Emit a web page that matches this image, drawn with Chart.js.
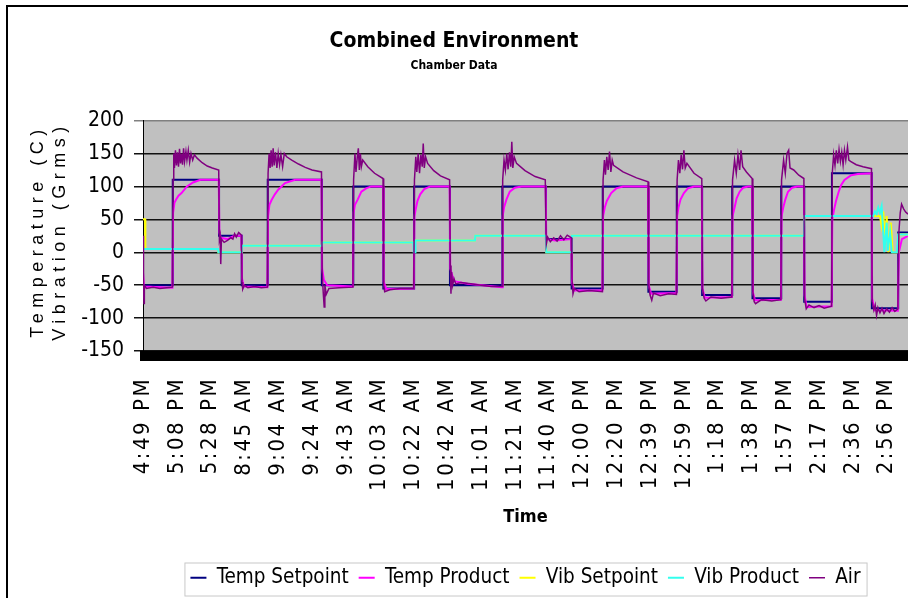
<!DOCTYPE html>
<html>
<head>
<meta charset="utf-8">
<script src="https://cdn.jsdelivr.net/npm/chart.js@4.4.1/dist/chart.umd.min.js"></script>
<style>
  html, body { margin: 0; padding: 0; background: #fff; overflow: hidden; }
  #wrap { position: relative; width: 908px; height: 598px; }
</style>
</head>
<body>
<div id="wrap"><canvas id="chart"></canvas></div>
<script>
const NARROW = "'Liberation Sans Narrow', 'Arial Narrow', 'DejaVu Sans Condensed', 'Liberation Sans', sans-serif";
const REGULAR = "'Liberation Sans', Arial, sans-serif";

// time axis labels, one per label step (x = label index)
const timeLabels = ['4:49 PM', '5:08 PM', '5:28 PM', '8:45 AM', '9:04 AM', '9:24 AM', '9:43 AM',
  '10:03 AM', '10:22 AM', '10:42 AM', '11:01 AM', '11:21 AM', '11:40 AM', '12:00 PM', '12:20 PM',
  '12:39 PM', '12:59 PM', '1:18 PM', '1:38 PM', '1:57 PM', '2:17 PM', '2:36 PM', '2:56 PM'];
const yTitle = ['Temperature (C)', 'Vibration (Grms)'];

// Temp Setpoint, stepped: level starts at each x
const tempSetX = [0, 0.88, 2.25, 2.92, 3.69, 5.29, 6.22, 7.11, 8.02, 9.08, 10.63, 11.92, 12.68,
  13.60, 14.95, 15.79, 16.54, 17.43, 18.03, 18.88, 19.56, 20.38, 21.56, 22.34, 22.63];
const tempSetY = [-50, 110, 25, -50, 110, -50, 100, -55, 100, -50, 100, 20, -55,
  100, -60, 100, -65, 100, -70, 100, -75, 120, -85, 30, 30];

// Temp Product
const tempProdX = [
  0, 0.03, 0.87,
  0.89, 0.93, 0.98, 1.05, 1.14, 1.30, 1.48, 1.70, 2.24,
  2.26, 2.30, 2.50, 2.70, 2.91,
  2.93, 2.98, 3.68,
  3.70, 3.74, 3.80, 3.90, 4.00, 4.20, 4.50, 5.28,
  5.30, 5.35, 5.45, 6.21,
  6.23, 6.27, 6.35, 6.46, 6.60, 6.75, 7.10,
  7.12, 7.20, 8.01,
  8.03, 8.07, 8.12, 8.20, 8.32, 8.50, 9.07,
  9.09, 9.20, 9.60, 10.62,
  10.64, 10.68, 10.75, 10.85, 11.00, 11.20, 11.91,
  11.93, 12.20, 12.67,
  12.69, 12.75, 13.59,
  13.61, 13.66, 13.72, 13.85, 14.00, 14.20, 14.94,
  14.96, 15.03, 15.78,
  15.80, 15.84, 15.90, 16.00, 16.12, 16.30, 16.53,
  16.55, 16.62, 17.42,
  17.44, 17.50, 17.56, 17.65, 17.75, 17.90, 18.02,
  18.04, 18.10, 18.87,
  18.89, 18.94, 19.00, 19.08, 19.20, 19.35, 19.55,
  19.57, 19.63, 20.37,
  20.39, 20.44, 20.50, 20.58, 20.65, 20.75, 20.95, 21.15, 21.55,
  21.57, 21.64, 22.33,
  22.36, 22.45, 22.63
];
const tempProdY = [
  -30, -52, -54,
  60, 75, 80, 86, 90, 100, 106, 110, 110,
  30, 22, 20, 25, 25,
  -40, -52, -53,
  55, 72, 79, 88, 95, 105, 110, 110,
  -25, -42, -50, -52,
  60, 72, 80, 92, 97, 100, 100,
  -45, -56, -55,
  55, 66, 78, 88, 96, 100, 100,
  -25, -44, -48, -53,
  55, 68, 80, 92, 98, 100, 100,
  20, 18, 20,
  -45, -58, -58,
  55, 68, 78, 90, 97, 100, 100,
  -50, -63, -62,
  55, 68, 80, 90, 97, 100, 100,
  -55, -69, -68,
  55, 68, 82, 92, 98, 100, 100,
  -60, -73, -72,
  55, 68, 80, 92, 98, 100, 100,
  -65, -83, -82,
  50, 64, 78, 92, 102, 110, 117, 119, 120,
  -70, -88, -89,
  0, 20, 25
];

// Vib Setpoint
const vibSetX = [0, 0.06, 0.07, 2.22, 2.23, 2.92, 2.93, 5.29, 5.30, 8.01, 8.06, 9.82, 9.83, 11.92, 11.93,
  12.68, 12.69, 19.55, 19.56, 21.80, 21.85, 21.90, 21.95, 22.00, 22.05, 22.12, 22.18, 22.34, 22.35, 22.63];
const vibSetY = [50, 50, 5, 5, 0, 0, 10, 10, 15, 15, 18, 18, 25, 25, 0,
  0, 25, 25, 55, 55, 40, 62, 10, 55, 0, 45, 0, 0, 27, 27];

// Vib Product
const vibProdX = [0, 2.22, 2.23, 2.92, 2.93, 5.29, 5.30, 8.00, 8.01, 8.05, 8.06, 9.82, 9.83, 11.92, 11.93,
  12.68, 12.69, 19.55, 19.56, 21.60, 21.65, 21.70, 21.75, 21.80, 21.85, 21.90, 21.93,
  22.00, 22.03, 22.10, 22.15, 22.30, 22.34, 22.63];
const vibProdY = [5, 5, 0, 0, 10, 10, 15, 15, 0, 0, 18, 18, 25, 25, 0,
  0, 25, 25, 55, 55, 62, 58, 68, 60, 70, 30, 0,
  45, 2, 30, 0, 0, 27, 27];

// Air
const airX = [
  0, 0.01, 0.02, 0.03, 0.04, 0.10, 0.30, 0.50, 0.70, 0.87,
  0.89, 0.91, 0.93, 0.96, 0.99, 1.02, 1.05, 1.08, 1.11, 1.14, 1.17, 1.20, 1.23, 1.27, 1.30, 1.34, 1.38, 1.42, 1.47, 1.52, 1.60, 1.75, 1.90, 2.05, 2.24,
  2.26, 2.28, 2.30, 2.32, 2.40, 2.50, 2.60, 2.66, 2.71, 2.76, 2.83, 2.91,
  2.93, 2.95, 3.00, 3.10, 3.30, 3.50, 3.68,
  3.70, 3.73, 3.76, 3.79, 3.82, 3.85, 3.88, 3.92, 3.96, 4.00, 4.04, 4.08, 4.13, 4.18, 4.25, 4.40, 4.60, 4.80, 5.00, 5.28,
  5.30, 5.33, 5.36, 5.38, 5.42, 5.50, 5.80, 6.21,
  6.23, 6.27, 6.30, 6.34, 6.37, 6.40, 6.43, 6.46, 6.50, 6.65, 6.85, 7.10,
  7.12, 7.15, 7.30, 7.60, 8.01,
  8.03, 8.07, 8.10, 8.14, 8.18, 8.22, 8.26, 8.29, 8.32, 8.36, 8.42, 8.60, 8.80, 9.07,
  9.09, 9.11, 9.13, 9.16, 9.20, 9.25, 9.40, 9.70, 10.00, 10.30, 10.62,
  10.64, 10.68, 10.72, 10.76, 10.80, 10.84, 10.88, 10.91, 10.94, 10.98, 11.05, 11.30, 11.60, 11.90,
  11.93, 11.97, 12.05, 12.15, 12.25, 12.35, 12.45, 12.55, 12.67,
  12.69, 12.72, 12.76, 12.90, 13.20, 13.59,
  13.61, 13.65, 13.68, 13.72, 13.76, 13.80, 13.84, 13.88, 13.92, 14.20, 14.60, 14.94,
  14.96, 15.00, 15.05, 15.10, 15.30, 15.55, 15.78,
  15.80, 15.84, 15.88, 15.92, 15.96, 16.00, 16.04, 16.09, 16.30, 16.53,
  16.55, 16.60, 16.65, 16.80, 17.10, 17.42,
  17.44, 17.50, 17.55, 17.60, 17.65, 17.69, 17.74, 17.85, 18.02,
  18.04, 18.08, 18.12, 18.30, 18.60, 18.87,
  18.89, 18.95, 19.00, 19.05, 19.10, 19.14, 19.25, 19.40, 19.55,
  19.57, 19.62, 19.70, 19.85, 20.00, 20.15, 20.37,
  20.39, 20.43, 20.47, 20.51, 20.55, 20.59, 20.63, 20.67, 20.71, 20.75, 20.79, 20.84, 20.88, 20.93, 21.10, 21.30, 21.55,
  21.57, 21.62, 21.66, 21.70, 21.74, 21.80, 21.86, 21.92, 22.00, 22.08, 22.16, 22.24, 22.33,
  22.36, 22.40, 22.44, 22.50, 22.56, 22.63
];
const airY = [
  25, 10, -60, -78, -50, -55, -53, -55, -54, -53,
  110, 150, 128, 155, 132, 152, 130, 157, 135, 150, 133, 158, 138, 153, 140, 155, 137, 150, 140, 148, 143, 136, 131, 128, 125,
  20, 25, -18, 20, 15, 18, 22, 20, 28, 23, 30, 26,
  -45, -56, -50, -54, -52, -54, -53,
  120, 150, 128, 155, 130, 158, 132, 152, 128, 150, 133, 148, 130, 150, 145, 140, 134, 129, 125, 122,
  -30, -60, -83, -50, -64, -55, -54, -53,
  110, 150, 122, 145, 158, 125, 150, 130, 140, 130, 120, 112,
  -50, -60, -57, -55, -55,
  110, 145, 122, 150, 120, 148, 130, 165, 128, 145, 135, 124, 116, 110,
  -20, -63, -30, -50, -40, -48, -46, -48, -50, -52, -52,
  110, 140, 125, 150, 126, 152, 130, 168, 128, 145, 135, 124, 115, 110,
  12, 23, 16, 22, 17, 25, 19, 26, 22,
  -40, -63, -55, -60, -58, -60,
  110, 140, 118, 145, 125, 153, 122, 140, 132, 122, 113, 107,
  -50, -65, -73, -62, -66, -63, -64,
  110, 140, 120, 148, 126, 155, 128, 135, 120, 112,
  -55, -70, -74, -68, -70, -68,
  110, 140, 120, 148, 125, 155, 130, 122, 112,
  -60, -75, -78, -72, -74, -72,
  110, 140, 120, 150, 155, 128, 125, 117, 112,
  -70, -86, -80, -84, -81, -85, -82,
  120, 148, 132, 155, 135, 156, 138, 152, 133, 155, 140, 160, 140, 138, 133, 130, 127,
  -75, -88, -80, -96, -84, -92, -85, -93, -86, -91, -84, -90, -86,
  30, 60, 73, 66, 61, 58
];

const pts = (xs, ys) => xs.map((x, i) => ({ x: x, y: ys[i] }));

// grey plot area, black floor strip, outer frame, y title, legend box
const chartDecor = {
  id: 'chartDecor',
  beforeDraw(chart) {
    const { ctx, chartArea: a } = chart;
    ctx.save();
    ctx.fillStyle = '#c0c0c0';
    ctx.fillRect(a.left, a.top, a.right - a.left, a.bottom - a.top);
    ctx.restore();

    const sx = chart.scales.x;
    if (!sx._spaced) {
      const drawLabels = sx.drawLabels.bind(sx);
      sx.drawLabels = (area) => {
        sx.ctx.save();
        sx.ctx.letterSpacing = '2.5px';
        drawLabels(area);
        sx.ctx.restore();
      };
      sx._spaced = true;
    }
  },
  afterDraw(chart) {
    const { ctx, chartArea: a } = chart;
    ctx.save();
    ctx.fillStyle = '#000';
    ctx.fillRect(a.left - 3, a.bottom, a.right - a.left + 3, 10);
    ctx.fillRect(6, 5, 2, chart.height);
    ctx.fillRect(6, 5, chart.width, 2);

    const hb = chart.legend.legendHitBoxes;
    if (hb && hb.length) {
      const last = hb[hb.length - 1];
      const left = hb[0].left - 6;
      const right = last.left + last.width + 6;
      const top = hb[0].top - 5;
      ctx.strokeStyle = '#c8c8c8';
      ctx.lineWidth = 1;
      ctx.strokeRect(left + 0.5, top + 0.5, right - left, 33);
    }

    ctx.translate(38, 231);
    ctx.rotate(-Math.PI / 2);
    ctx.font = '18px ' + REGULAR;
    ctx.letterSpacing = '5.5px';
    ctx.textAlign = 'center';
    ctx.textBaseline = 'middle';
    ctx.fillStyle = '#000';
    ctx.fillText(yTitle[0], 0, 0);
    ctx.fillText(yTitle[1], 0, 22);
    ctx.restore();
  }
};

new Chart(document.getElementById('chart'), {
  type: 'line',
  data: {
    datasets: [
      { label: 'Temp Setpoint', data: pts(tempSetX, tempSetY), stepped: true,
        borderColor: '#000080', backgroundColor: '#000080', borderWidth: 2, order: 4 },
      { label: 'Temp Product', data: pts(tempProdX, tempProdY),
        borderColor: '#ff00ff', backgroundColor: '#ff00ff', borderWidth: 2, order: 3 },
      { label: 'Vib Setpoint', data: pts(vibSetX, vibSetY),
        borderColor: '#ffff00', backgroundColor: '#ffff00', borderWidth: 2, order: 2 },
      { label: 'Vib Product', data: pts(vibProdX, vibProdY),
        borderColor: '#33ffee', backgroundColor: '#33ffee', borderWidth: 2, order: 1 },
      { label: 'Air', data: pts(airX, airY),
        borderColor: '#800080', backgroundColor: '#800080', borderWidth: 1.5, order: 0 }
    ]
  },
  options: {
    responsive: true,
    maintainAspectRatio: false,
    animation: false,
    events: [],
    elements: { point: { radius: 0 }, line: { tension: 0 } },
    layout: { padding: 0 },
    scales: {
      x: {
        type: 'linear',
        min: 0,
        max: 22.63,
        afterBuildTicks: (s) => { s.ticks = timeLabels.map((t, i) => ({ value: i })); },
        afterFit: (s) => { s.height = 206.5; s.paddingLeft = 0; s.paddingRight = 0; },
        grid: { display: false, drawTicks: false, tickLength: 0 },
        border: { display: false },
        ticks: {
          autoSkip: false, minRotation: 90, maxRotation: 90, padding: 26,
          color: '#000', font: { family: NARROW, size: 22 },
          callback: (v) => timeLabels[v]
        },
        title: {
          display: true, text: 'Time', color: '#000',
          font: { family: NARROW, size: 18, weight: 'bold' },
          padding: { top: 0, bottom: 29 }
        }
      },
      y: {
        min: -150,
        max: 200,
        afterFit: (s) => { s.width = 143; },
        ticks: { stepSize: 50, padding: 10, color: '#000', font: { family: NARROW, size: 21 } },
        grid: {
          color: (c) => (c.tick && c.tick.value === 200 ? '#808080' : '#111'),
          lineWidth: 1.5,
          tickLength: 9
        },
        border: { display: true, color: '#000', width: 1 }
      }
    },
    plugins: {
      title: {
        display: true, text: 'Combined Environment', color: '#000',
        font: { family: NARROW, size: 21, weight: 'bold' },
        padding: { top: 29, bottom: 0 }
      },
      subtitle: {
        display: true, text: 'Chamber Data', color: '#000',
        font: { family: NARROW, size: 12, weight: 'bold' },
        padding: { top: 4, bottom: 48 }
      },
      legend: {
        position: 'bottom',
        fullSize: false,
        labels: {
          usePointStyle: true, pointStyle: 'line', pointStyleWidth: 16,
          color: '#000', padding: 10,
          font: { family: NARROW, size: 20.5 },
          sort: (a, b) => a.datasetIndex - b.datasetIndex
        }
      },
      tooltip: { enabled: false }
    }
  },
  plugins: [chartDecor]
});
</script>
</body>
</html>
